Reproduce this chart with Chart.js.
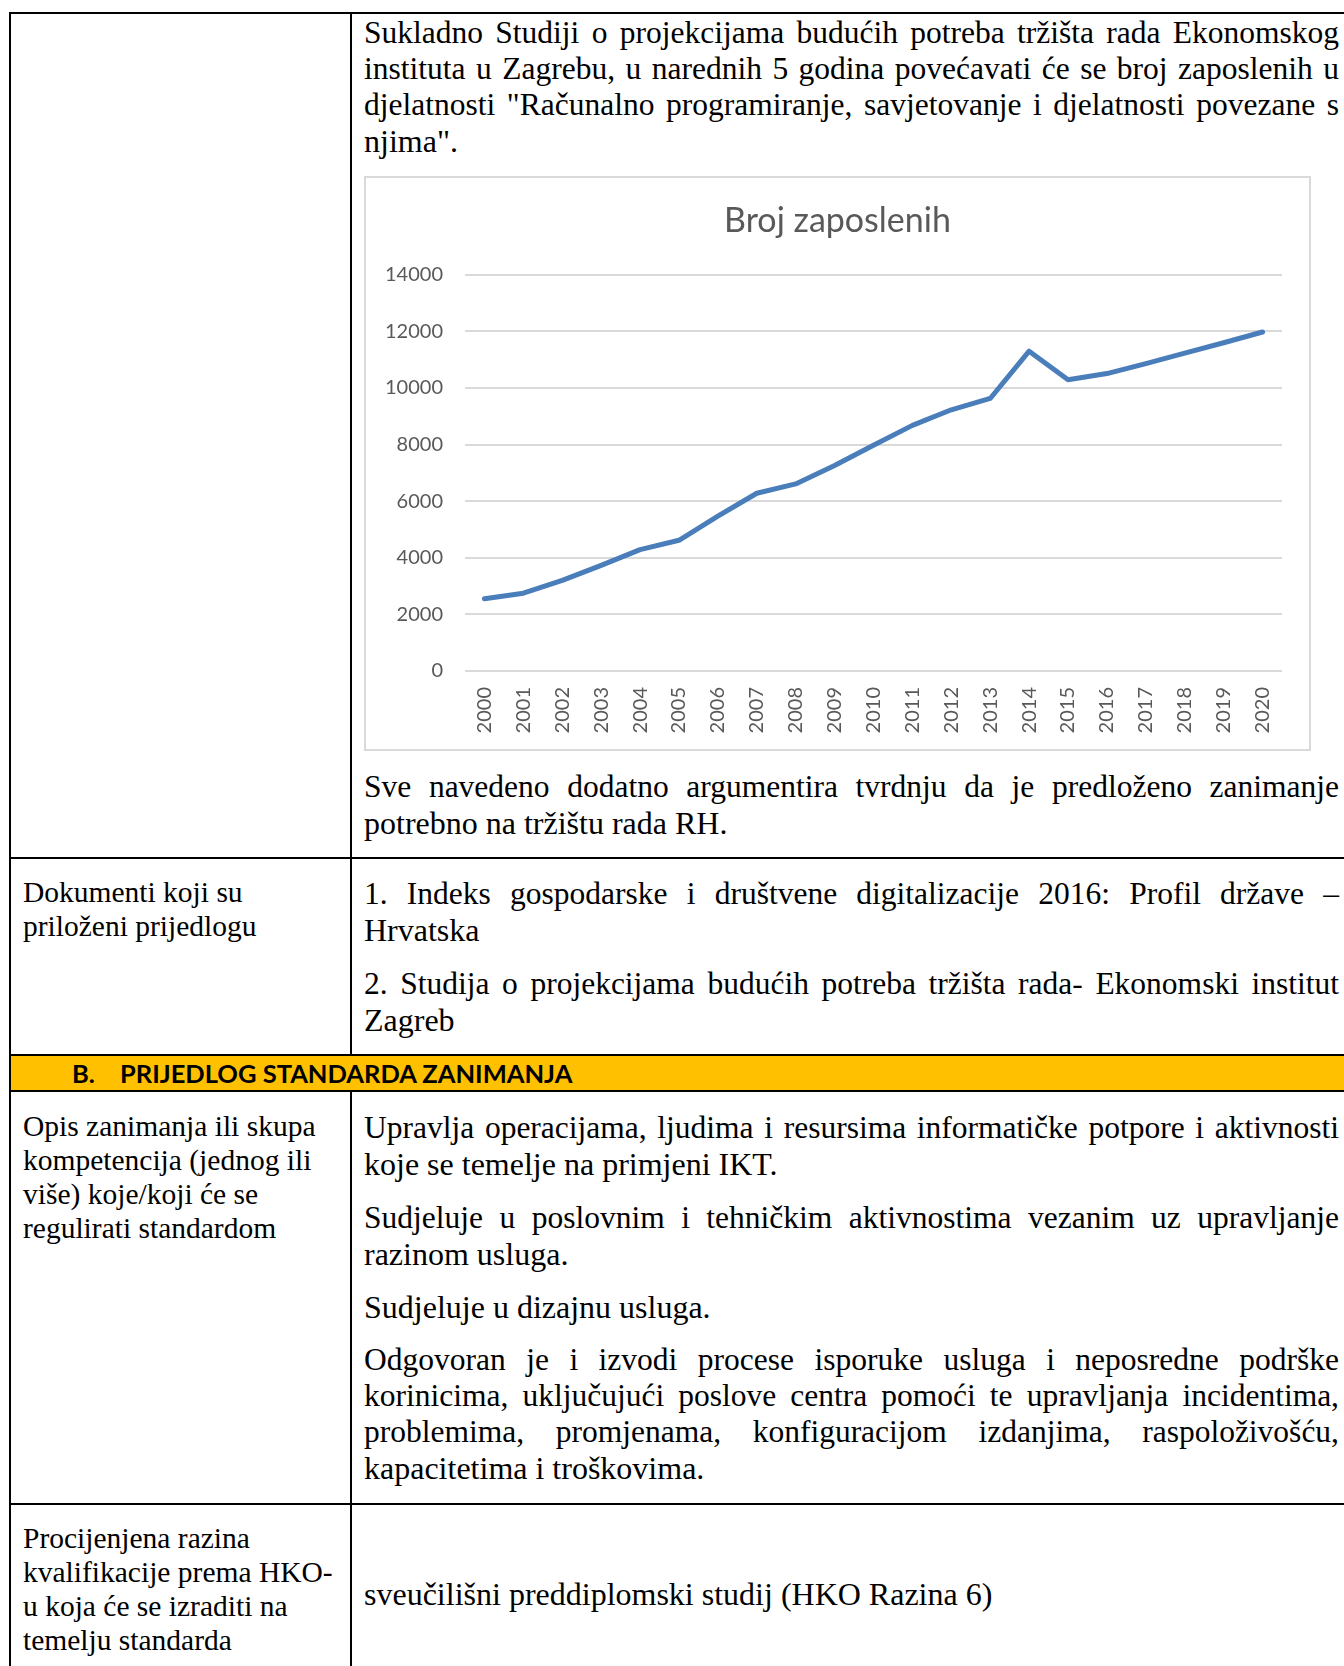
<!DOCTYPE html>
<html>
<head>
<meta charset="utf-8">
<script src="https://cdn.jsdelivr.net/npm/chart.js@4.4.0/dist/chart.umd.min.js"></script>
<style>
  html, body { margin: 0; padding: 0; background: #fff; }
  body { width: 1344px; height: 1666px; position: relative; overflow: hidden;
         font-family: "Liberation Serif", "Times New Roman", serif; color: #000; }
  .hl { position: absolute; left: 9px; right: 0; height: 2px; background: #000; }
  .vl { position: absolute; width: 2px; background: #000; }
  .p { position: absolute; left: 364px; width: 975px; font-size: 32px; line-height: 36px; }
  .p div { white-space: nowrap; }
  .p div.j { white-space: normal; text-align: justify; text-align-last: justify; font-size: 31.5px; }
  .l { position: absolute; left: 23px; font-size: 29.5px; line-height: 34px; white-space: nowrap; }
  .band { position: absolute; left: 9px; right: 0; top: 1055px; height: 36px; background: #ffc000; }
  .band span { position: absolute; top: 0; line-height: 36px; font-family: Lato, sans-serif;
               font-weight: bold; font-size: 25.5px; }
  #box { position: absolute; left: 364px; top: 176px; width: 947px; height: 575px;
         box-sizing: border-box; border: 2px solid #d9d9d9; background: #fff; }
</style>
</head>
<body>

<div class="hl" style="top:12px"></div>
<div class="hl" style="top:857px"></div>
<div class="band"><span style="left:63px">B.</span><span style="left:111px">PRIJEDLOG STANDARDA ZANIMANJA</span></div>
<div class="hl" style="top:1054px"></div>
<div class="hl" style="top:1090px"></div>
<div class="hl" style="top:1503px"></div>
<div class="vl" style="left:9px; top:12px; height:1654px"></div>
<div class="vl" style="left:350px; top:12px; height:1043px"></div>
<div class="vl" style="left:350px; top:1090px; height:576px"></div>

<div class="p" style="top:15px">
  <div class="j">Sukladno Studiji o projekcijama budućih potreba tržišta rada Ekonomskog</div>
  <div class="j">instituta u Zagrebu, u narednih 5 godina povećavati će se broj zaposlenih u</div>
  <div class="j">djelatnosti "Računalno programiranje, savjetovanje i djelatnosti povezane s</div>
  <div>njima".</div>
</div>

<div id="box"><canvas id="chart" width="943" height="571"></canvas></div>

<div class="p" style="top:769px">
  <div class="j">Sve navedeno dodatno argumentira tvrdnju da je predloženo zanimanje</div>
  <div>potrebno na tržištu rada RH.</div>
</div>

<div class="l" style="top:875px">Dokumenti koji su<br>priloženi prijedlogu</div>
<div class="p" style="top:876px">
  <div class="j">1. Indeks gospodarske i društvene digitalizacije 2016: Profil države –</div>
  <div>Hrvatska</div>
</div>
<div class="p" style="top:966px">
  <div class="j">2. Studija o projekcijama budućih potreba tržišta rada- Ekonomski institut</div>
  <div>Zagreb</div>
</div>

<div class="l" style="top:1109px">Opis zanimanja ili skupa<br>kompetencija (jednog ili<br>više) koje/koji će se<br>regulirati standardom</div>
<div class="p" style="top:1110px">
  <div class="j">Upravlja operacijama, ljudima i resursima informatičke potpore i aktivnosti</div>
  <div>koje se temelje na primjeni IKT.</div>
</div>
<div class="p" style="top:1200px">
  <div class="j">Sudjeluje u poslovnim i tehničkim aktivnostima vezanim uz upravljanje</div>
  <div>razinom usluga.</div>
</div>
<div class="p" style="top:1289px">
  <div>Sudjeluje u dizajnu usluga.</div>
</div>
<div class="p" style="top:1342px">
  <div class="j">Odgovoran je i izvodi procese isporuke usluga i neposredne podrške</div>
  <div class="j">korinicima, uključujući poslove centra pomoći te upravljanja incidentima,</div>
  <div class="j">problemima, promjenama, konfiguracijom izdanjima, raspoloživošću,</div>
  <div>kapacitetima i troškovima.</div>
</div>

<div class="l" style="top:1521px">Procijenjena razina<br>kvalifikacije prema HKO-<br>u koja će se izraditi na<br>temelju standarda</div>
<div class="p" style="top:1576px">
  <div>sveučilišni preddiplomski studij (HKO Razina 6)</div>
</div>

<script>
var chartTitle = 'Broj zaposlenih';
var years = ['2000', '2001', '2002', '2003', '2004', '2005', '2006', '2007', '2008', '2009', '2010',
             '2011', '2012', '2013', '2014', '2015', '2016', '2017', '2018', '2019', '2020'];
var employees = [2550, 2750, 3200, 3730, 4290, 4620, 5470, 6280, 6610, 7260, 7980,
                 8680, 9230, 9630, 11300, 10290, 10510, 10860, 11230, 11600, 11980];
var yMin = 0;
var yMax = 14000;
var yStep = 2000;

var grey = '#595959';

new Chart(document.getElementById('chart'), {
    type: 'line',
    data: {
        labels: years,
        datasets: [{
            label: chartTitle,
            data: employees,
            borderColor: '#4a7ebb',
            borderWidth: 5,
            borderCapStyle: 'round',
            borderJoinStyle: 'round',
            pointRadius: 0,
            tension: 0,
            fill: false
        }]
    },
    options: {
        responsive: false,
        animation: false,
        devicePixelRatio: 1,
        layout: { padding: 0 },
        plugins: {
            legend: { display: false },
            tooltip: { enabled: false },
            title: {
                display: true,
                text: chartTitle,
                color: grey,
                font: { family: 'Lato', size: 34, weight: 'normal' },
                padding: { top: 23, bottom: 33 }
            }
        },
        scales: {
            x: {
                offset: true,
                grid: { display: false, drawTicks: false },
                border: { display: false },
                ticks: {
                    color: grey,
                    font: { family: 'Lato', size: 20 },
                    minRotation: 90,
                    maxRotation: 90,
                    autoSkip: false,
                    padding: 16
                },
                afterFit: function(scale) { scale.height = 78; }
            },
            y: {
                min: yMin,
                max: yMax,
                grid: { color: '#d9d9d9', lineWidth: 2, drawTicks: false },
                border: { display: false },
                ticks: {
                    stepSize: yStep,
                    color: grey,
                    font: { family: 'Lato', size: 20 },
                    padding: 22,
                    callback: function(v) { return String(v); }
                },
                afterFit: function(scale) { scale.width = 99; }
            },
            // empty right axis, only keeps the plot clear of the box's right edge
            yRight: {
                position: 'right',
                grid: { display: false },
                border: { display: false },
                ticks: { display: false },
                afterFit: function(scale) { scale.width = 27; }
            }
        }
    }
});
</script>
</body>
</html>
